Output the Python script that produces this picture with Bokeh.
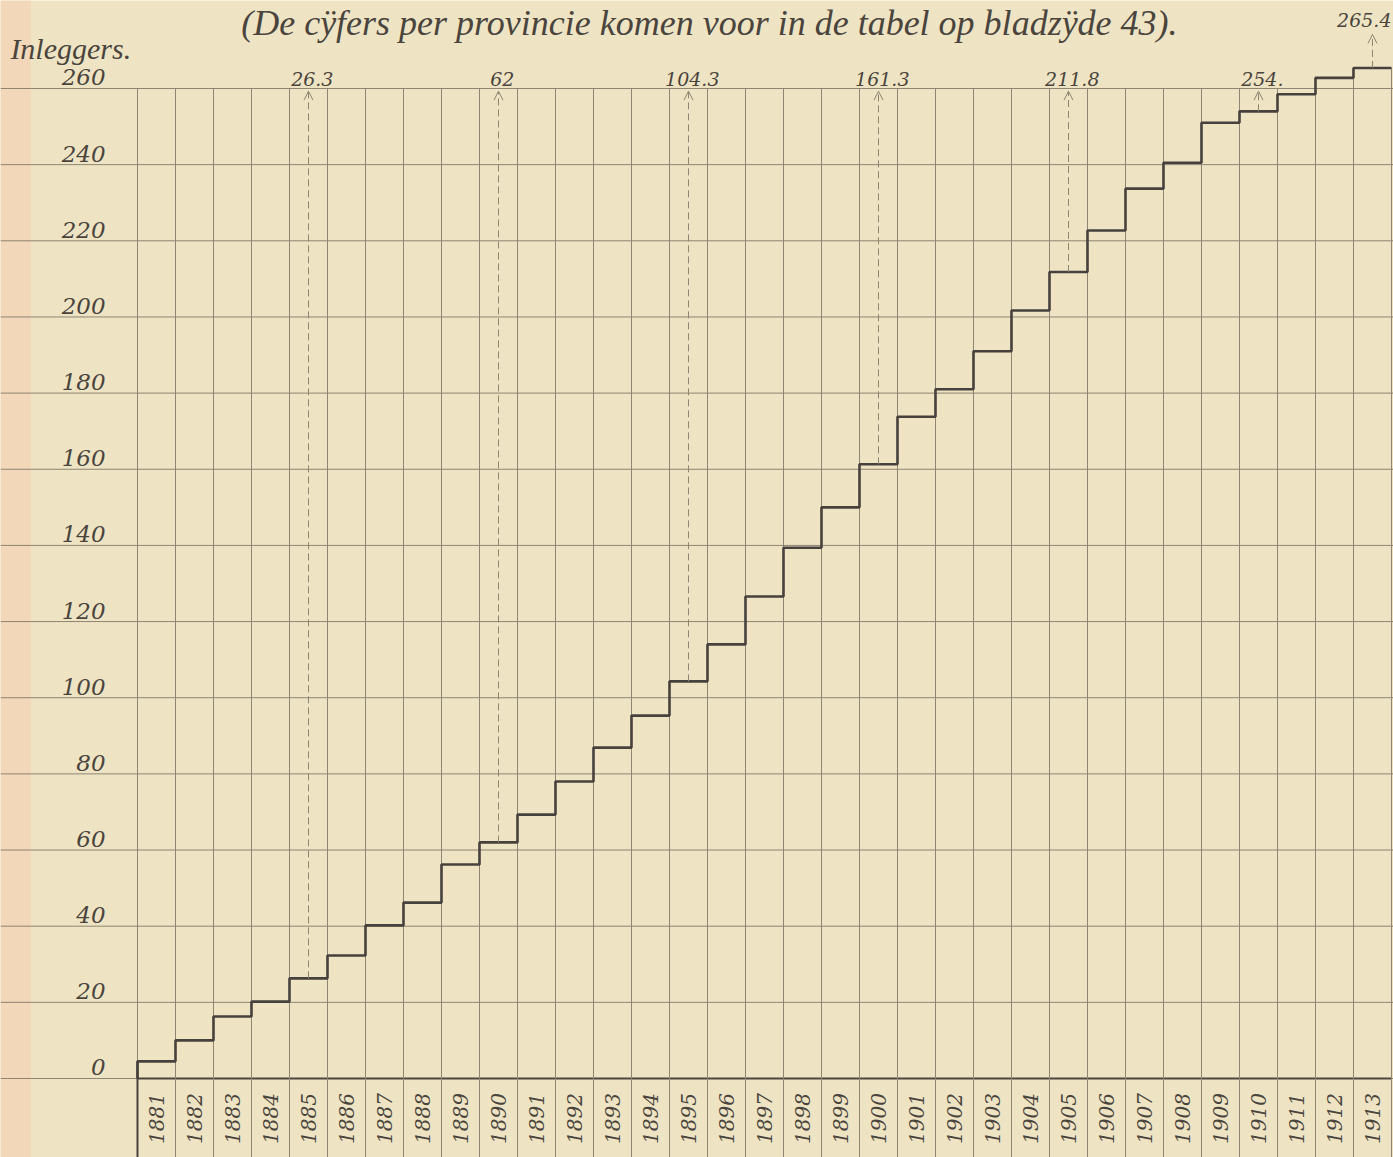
import numpy as np
from bokeh.plotting import figure
from bokeh.models import ColumnDataSource, Range1d, Arrow, OpenHead, BoxAnnotation
from bokeh.core.properties import value
from bokeh.embed import file_html
from bokeh.resources import INLINE

# ---------------- data ----------------
years = list(range(1881, 1914))
inleggers = [4.5, 10.0, 16.3, 20.2, 26.3, 32.3, 40.2, 46.2, 56.2, 62.0,
             69.3, 78.0, 86.9, 95.3, 104.3, 114.0, 126.6, 139.4, 150.0, 161.3,
             173.8, 181.0, 191.0, 201.7, 211.8, 222.7, 233.7, 240.5, 251.0, 254.0,
             258.5, 262.8, 265.4]
year_labels = [str(y) for y in years]

ytick_values = list(range(0, 261, 20))
ytick_labels = [str(v) for v in ytick_values]

ann_years = [1885, 1890, 1895, 1900, 1905, 1910, 1913]
ann_labels = ["26.3", "62", "104.3", "161.3", "211.8", "254.", "265.4"]

title_text = "(De cÿfers per provincie komen voor in de tabel op bladzÿde 43)."
unit_text = "Inleggers."

# ---------------- style ----------------
BG = "#EEE4C4"
GRID = "#8E8472"
INK = "#4A443D"
STEP = "#47413D"
SERIF_IT = value("Liberation Serif")
NUM_FONT = value("DejaVu Serif")

x0, x1 = 1876.895, 1913.553
y0, y1 = -20.75, 283.11

p = figure(width=1393, height=1157, x_range=Range1d(x0, x1), y_range=Range1d(y0, y1),
           x_axis_type=None, y_axis_type=None, output_backend="svg",
           toolbar_location=None, min_border=0,
           background_fill_color=BG, border_fill_color=BG, outline_line_color=None)
p.grid.visible = False

# scan edge tint on the far left
p.add_layout(BoxAnnotation(left=x0, right=x0 + 0.8, fill_color="#F2D5B7",
                           fill_alpha=0.85, line_alpha=0, level="underlay"))

# horizontal rules every 20 across the whole sheet
p.segment(x0=[x0] * len(ytick_values), x1=[x1] * len(ytick_values),
          y0=ytick_values, y1=ytick_values, line_color=GRID, line_width=1)
# heavier base line under the columns
p.segment(x0=[years[0] - 0.5], x1=[years[-1] + 0.5], y0=[0], y1=[0],
          line_color=INK, line_width=1.8)

# vertical column boundaries
edges = [y - 0.5 for y in years] + [years[-1] + 0.5]
left_vals = [0.0] + inleggers
tops = [max(260.0, v) for v in left_vals]
p.segment(x0=edges, x1=edges, y0=[y0] * len(edges), y1=tops,
          line_color=GRID, line_width=1)
# heavier left boundary below the first step
p.segment(x0=[edges[0]], x1=[edges[0]], y0=[y0], y1=[inleggers[0]],
          line_color=STEP, line_width=2)

# step line of cumulative depositors
step_x = [edges[0]] + edges
step_y = [0.0] + inleggers + [inleggers[-1]]
p.step(x=step_x, y=step_y, mode="after", line_color=STEP, line_width=2.6)

# dashed arrows with values
ann_vals = [inleggers[years.index(y)] for y in ann_years]
arrow_tops = [259.3 if v < 259.3 else v + 8.8 for v in ann_vals]
asrc = ColumnDataSource(dict(x=ann_years, y0=ann_vals, y1=arrow_tops))
p.add_layout(Arrow(end=OpenHead(size=9, line_color=GRID, line_width=1),
                   x_start="x", y_start="y0", x_end="x", y_end="y1", source=asrc,
                   line_color=GRID, line_width=1, line_dash="7 4"))

lab_x = [y + 0.1 if v < 259.3 else y + 0.5 for y, v in zip(ann_years, ann_vals)]
lab_y = [260.0 if v < 259.3 else t + 1.5 for v, t in zip(ann_vals, arrow_tops)]
lab_align = ["center" if v < 259.3 else "right" for v in ann_vals]
p.text(x=lab_x, y=lab_y, text=ann_labels, text_align=lab_align, text_baseline="bottom",
       y_offset=-2, text_font=NUM_FONT, text_font_style="italic", text_font_size="19px",
       text_color=INK)

# y values at the left, sitting on their rules
ylab_x = years[0] - 1.34
p.text(x=[ylab_x] * len(ytick_values), y=ytick_values, text=ytick_labels,
       text_align="right", text_baseline="bottom", y_offset=-3,
       text_font=NUM_FONT, text_font_style="italic", text_font_size="23px",
       text_color=INK)

# year labels, rotated, under the base line
p.text(x=years, y=[-10.5] * len(years), text=year_labels, angle=np.pi / 2,
       text_align="center", text_baseline="middle",
       text_font=NUM_FONT, text_font_style="italic", text_font_size="20px",
       text_color=INK)

# unit and title
p.text(x=[x0 + 0.26], y=[270.5], text=[unit_text], text_align="left",
       text_baseline="middle", text_font=SERIF_IT, text_font_style="italic",
       text_font_size="30px", text_color=INK)
p.text(x=[1895.55], y=[277.3], text=[title_text], text_align="center",
       text_baseline="middle", text_font=SERIF_IT, text_font_style="italic",
       text_font_size="36px", text_color=INK)

open("out.html", "w").write(file_html(p, INLINE))
